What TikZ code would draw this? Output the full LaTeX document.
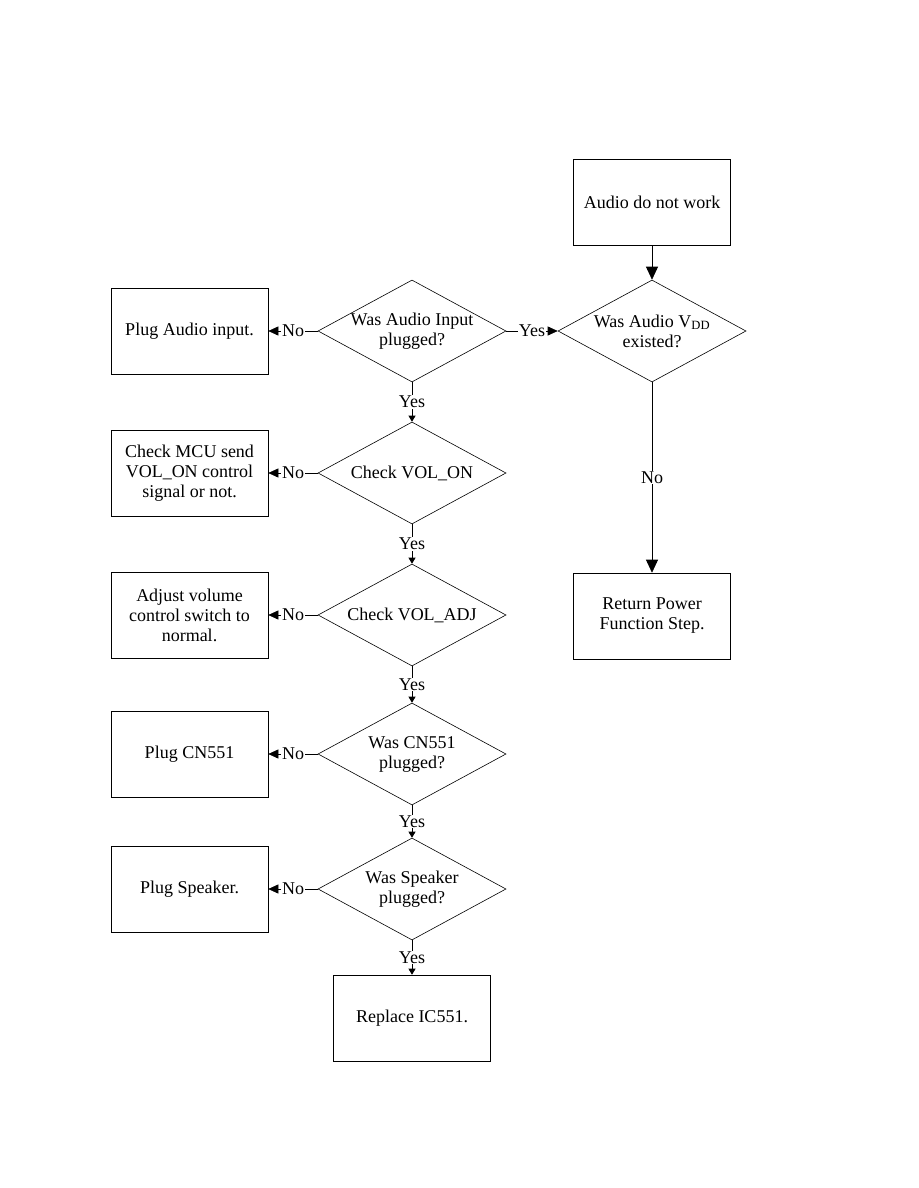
\documentclass[tikz,border=0pt]{standalone}
\usepackage{fontspec}
\setmainfont{Liberation Serif}
\usetikzlibrary{shapes.geometric,arrows.meta}

\tikzset{
  stepbox/.style={draw,line width=0.6pt,minimum width=157pt,minimum height=86pt,align=center,inner sep=2pt},
  query/.style={draw,diamond,aspect=1.84,inner sep=-2pt,minimum width=188pt,minimum height=102pt,align=center,line width=0.6pt},
  lbl/.style={fill=white,inner sep=1pt},
  sidearr/.style={line width=0.6pt,-{Triangle[length=10pt,width=9pt]}},
  downarr/.style={line width=0.6pt,-{Triangle[length=6pt,width=7pt]}},
  mainarr/.style={line width=0.6pt,-{Triangle[length=13pt,width=12pt]}}
}

\begin{document}
\begin{tikzpicture}[x=1pt,y=-1pt,every node/.style={font=\fontsize{18}{20}\selectfont}]
    \useasboundingbox (0,0) rectangle (918,1188);

    % right column
    \node[stepbox] (start) at (652,202) {Audio do not work};
    \node[query] (vdd) at (652,331) {Was Audio V\textsubscript{DD}\\existed?};
    \node[stepbox] (ret) at (652,616) {Return Power\\Function Step.};

    % checks
    \node[query] (q1) at (412,331) {Was Audio Input\\plugged?};
    \node[query] (q2) at (412,473) {Check VOL\_ON};
    \node[query] (q3) at (412,615) {Check VOL\_ADJ};
    \node[query] (q4) at (412,754) {Was CN551\\plugged?};
    \node[query] (q5) at (412,889) {Was Speaker\\plugged?};
    \node[stepbox] (repl) at (412,1018) {Replace IC551.};

    % fixes
    \node[stepbox] (fix1) at (189.5,331) {Plug Audio input.};
    \node[stepbox] (fix2) at (189.5,473) {Check MCU send\\VOL\_ON control\\signal or not.};
    \node[stepbox] (fix3) at (189.5,615) {Adjust volume\\control switch to\\normal.};
    \node[stepbox] (fix4) at (189.5,754) {Plug CN551};
    \node[stepbox] (fix5) at (189.5,889) {Plug Speaker.};

    \draw[mainarr] (start.south) -- (vdd.north);
    \draw[mainarr] (vdd.south) -- node[lbl] {No} (ret.north);
    \draw[sidearr] (q1.east) -- node[lbl] {Yes} (vdd.west);

    \foreach \i in {1,...,5} {
      \draw[sidearr] (q\i.west) -- node[lbl] {No} (fix\i.east);
    }
    \draw[downarr] (q1.south) -- node[lbl] {Yes} (q2.north);
    \draw[downarr] (q2.south) -- node[lbl] {Yes} (q3.north);
    \draw[downarr] (q3.south) -- node[lbl] {Yes} (q4.north);
    \draw[downarr] (q4.south) -- node[lbl] {Yes} (q5.north);
    \draw[downarr] (q5.south) -- node[lbl] {Yes} (repl.north);
\end{tikzpicture}
\end{document}
